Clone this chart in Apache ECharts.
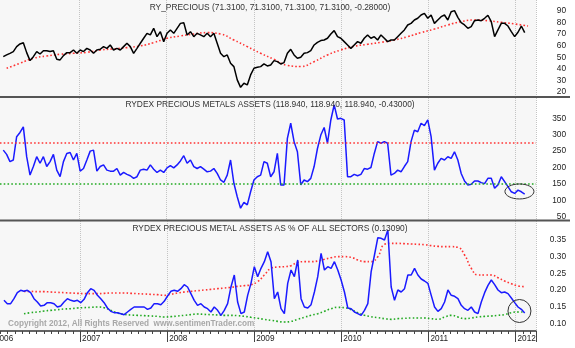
<!DOCTYPE html>
<html><head><meta charset="utf-8">
<script src="https://cdn.jsdelivr.net/npm/echarts@6/dist/echarts.min.js"></script>
<style>html,body{margin:0;padding:0;background:#fff;overflow:hidden}#c{position:absolute;left:-8px;top:0;width:583px;height:348px}</style>
</head><body><div id="c"></div>
<script>
// x values are days since 2006-01-01
const startDay = 46, stepDays = 14;          // first sample mid Feb 2006, every two weeks
const price = [50.5,52.0,53.4,54.9,59.2,61.5,62.6,54.0,47.1,50.5,54.9,52.8,55.7,55.7,54.9,55.7,48.2,47.7,51.4,54.0,
54.0,56.3,53.4,56.3,54.9,57.7,56.3,53.4,56.3,56.9,59.2,57.7,60.6,56.3,57.7,56.3,59.2,62.1,59.2,53.4,
57.7,62.1,66.4,70.7,69.3,75.0,67.8,72.1,63.5,70.7,73.6,70.7,75.0,79.3,79.9,69.3,72.1,67.8,70.7,69.3,
67.8,70.7,67.8,70.7,62.1,53.4,50.5,52.0,44.8,41.9,30.4,24.0,27.5,26.1,34.7,40.5,41.3,41.9,44.2,42.5,
43.3,47.1,46.2,44.2,45.4,53.4,56.9,52.0,49.1,50.0,53.4,54.0,55.7,60.6,62.9,64.4,64.9,66.4,70.1,73.0,
67.8,66.4,63.5,60.6,57.7,60.6,63.5,62.1,66.4,69.3,66.4,67.8,64.9,69.3,66.4,63.5,64.9,64.9,67.8,70.7,
73.6,77.9,79.3,82.2,83.7,86.5,88.0,83.7,86.5,79.3,82.2,85.1,86.5,82.2,89.4,90.3,84.5,79.9,77.9,75.0,
76.5,81.6,82.2,81.6,83.7,86.3,80.8,67.8,73.6,79.3,79.3,77.0,72.1,67.8,71.6,77.0,71.3];
const maStart = 60, maStep = 56;
const priceMA = [40.5,44.8,49.1,51.1,52.6,53.4,54.3,56.3,57.2,58.3,59.8,62.6,66.4,68.4,70.1,71.3,70.1,64.9,59.2,53.4,
48.2,43.0,42.0,46.2,52.0,56.3,59.5,61.2,62.9,64.9,67.8,71.3,74.4,77.9,80.8,82.2,81.6,80.2,78.8,77.0];
const assets = [253,240,218,223,294,307,324,233,177,203,233,213,233,203,218,240,192,172,218,243,
246,223,243,189,197,223,250,253,189,203,208,192,189,189,197,177,185,179,175,167,
172,192,195,192,208,195,185,192,185,199,206,199,208,220,236,213,223,203,197,203,
195,187,189,197,182,162,155,177,223,152,111,76,94,86,126,162,172,177,218,213,
172,187,243,147,147,289,335,279,248,147,162,157,167,203,258,299,322,274,345,391,
348,350,345,172,172,179,175,179,197,195,200,243,279,274,279,274,177,182,192,187,
203,218,279,314,309,335,328,345,294,192,213,228,223,233,228,248,223,182,159,147,
149,159,159,154,151,167,167,137,147,172,157,142,126,121,131,126,119];
const assetsHigh = 275, assetsLow = 151;
const pct = [.169,.159,.159,.174,.192,.199,.196,.199,.192,.174,.164,.152,.154,.162,.162,.159,.149,.152,.164,.174,
.169,.166,.169,.162,.172,.192,.204,.199,.184,.174,.162,.146,.136,.132,.132,.129,.126,.134,.142,.149,
.149,.149,.149,.142,.146,.159,.159,.156,.166,.182,.196,.199,.196,.204,.216,.209,.189,.169,.154,.159,
.149,.144,.134,.149,.139,.124,.139,.159,.209,.245,.164,.129,.134,.184,.220,.270,.240,.265,.285,.315,
.285,.174,.194,.144,.129,.220,.260,.240,.290,.174,.149,.146,.156,.194,.240,.310,.260,.270,.265,.285,
.260,.230,.194,.146,.144,.134,.129,.124,.139,.159,.255,.305,.357,.355,.350,.380,.209,.169,.200,.194,
.204,.245,.245,.265,.245,.233,.227,.220,.184,.149,.136,.144,.164,.200,.184,.181,.174,.154,.144,.139,
.149,.134,.129,.164,.192,.214,.230,.216,.200,.192,.194,.189,.176,.162,.149,.142,.131];
const bandStart = 130, bandStep = 28;
const pctHigh = [.196,.196,.195,.195,.194,.193,.192,.191,.190,.189,.189,.189,.190,.191,.191,.191,.190,.189,.188,.187,
.186,.184,.187,.191,.194,.196,.198,.200,.202,.204,.206,.208,.211,.213,.216,.225,.245,.265,.269,.270,
.273,.283,.285,.285,.287,.292,.297,.300,.300,.298,.290,.285,.285,.300,.337,.340,.340,.339,.338,.337,
.336,.333,.331,.330,.330,.328,.305,.265,.245,.245,.245,.237,.227,.219,.212,.210];
const pctLow = [.129,.132,.134,.137,.139,.141,.143,.144,.146,.147,.148,.149,.147,.139,.131,.127,.125,.124,.123,.122,
.121,.119,.120,.122,.124,.126,.128,.127,.126,.125,.124,.124,.123,.121,.118,.115,.112,.109,.106,.104,
.106,.112,.118,.124,.129,.136,.144,.148,.147,.141,.132,.124,.120,.117,.114,.112,.114,.115,.116,.116,
.116,.114,.112,.119,.124,.119,.114,.116,.119,.121,.122,.124,.126,.132,.134,.134];
const firstYear = 2006, yearDays = 365.25;
const priceTicks = [20,30,40,50,60,70,80,90];
const assetTicks = [50,100,150,200,250,300,350];
const pctTicks = [0.10,0.15,0.20,0.25,0.30,0.35];
const titles = ['RY_PRECIOUS (71.3100, 71.3100, 71.3100, 71.3100, -0.28000)',
  'RYDEX PRECIOUS METALS ASSETS (118.940, 118.940, 118.940, -0.43000)',
  'RYDEX PRECIOUS METAL ASSETS AS % OF ALL SECTORS (0.13090)'];
const copyright = 'Copyright 2012, All Rights Reserved  www.sentimenTrader.com';
const assetsMark = [2208, 127], pctMark = [2208, 0.137];

function pairs(start, step, vals){ return vals.map((v,i)=>[start+i*step, v]); }
function halfSteps(t){ const out=[]; const d=(t[1]-t[0])/2; for(let v=t[0]; v<=t[t.length-1]+d+1e-9; v+=d) out.push(+v.toFixed(4)); return out; }

// the chart container is shifted 8px left of the page, so the 2006 label is clipped to "06" as in the original
const SH = 8;
const FONT = 'Liberation Sans, Arial, sans-serif';
const XMAX = 2277.4;
const grids = [
  {left:0.3, right:39, top:0, height:96},
  {left:0.3, right:39, top:98, height:122},
  {left:0.3, right:39, top:221, height:110}
].map(g=>Object.assign(g,{show:true, backgroundColor:'#f7f7f7', borderWidth:0}));

function xAxis(i){
  const bottom = i===2;
  return {type:'value', gridIndex:i, min:0, max:XMAX, interval:yearDays,
    axisLine:{show:bottom, lineStyle:{color:'#333', width:1.5}},
    axisTick:{show:bottom, length:11, lineStyle:{color:'#444'}},
    minorTick:{show:bottom, splitNumber:12, length:3, lineStyle:{color:'#444'}},
    splitLine:{show:true, lineStyle:{color:'#c4c4c4', type:'dotted'}},
    axisLabel:{show:bottom, showMinLabel:true, align:'left', margin:4, padding:[0,0,0,2], fontSize:8.2, color:'#222', fontFamily:FONT,
      formatter:v=>{const k=v/yearDays; return Math.abs(k-Math.round(k))<1e-6 ? String(firstYear+Math.round(k)) : '';}}
  };
}
function yAxis(i, min, max, ticks, fmt){
  return {type:'value', gridIndex:i, position:'right', min, max, scale:true,
    axisLine:{show:true, lineStyle:{color:'#333'}},
    axisTick:{show:true, length:4, customValues:halfSteps(ticks).filter(v=>v<=max), lineStyle:{color:'#444'}},
    splitLine:{show:false},
    axisLabel:{show:true, customValues:ticks, align:'right', margin:30, fontSize:8.3, color:'#222', fontFamily:FONT, formatter:fmt}
  };
}
const dotted = (c)=>({color:c, width:1.6, type:[1.6,2.2]});
const tStyle = {fontSize:8.4, fontWeight:'normal', color:'#333', fontFamily:FONT};

const chart = echarts.init(document.getElementById('c'), null, {renderer:'canvas'});
chart.setOption({
  animation:false,
  backgroundColor:'#ffffff',
  grid:grids,
  xAxis:[xAxis(0),xAxis(1),xAxis(2)],
  yAxis:[yAxis(0,16.5,99.5,priceTicks,v=>String(v)),
         yAxis(1,40,412,assetTicks,v=>String(v)),
         yAxis(2,0.077,0.407,pctTicks,v=>v.toFixed(2))],
  title:[
    {text:titles[0], left:270+SH, top:4, padding:0, textAlign:'center', textStyle:tStyle},
    {text:titles[1], left:270+SH, top:100.5, padding:0, textAlign:'center', textStyle:tStyle},
    {text:titles[2], left:270+SH, top:224.5, padding:0, textAlign:'center', textStyle:tStyle},
    {text:copyright, left:8+SH, top:320, padding:0, textStyle:{fontSize:8.2, fontWeight:'bold', color:'#a8a8a8', fontFamily:FONT}}
  ],
  series:[
    {type:'line', xAxisIndex:0, yAxisIndex:0, data:pairs(maStart,maStep,priceMA), showSymbol:false, smooth:true, lineStyle:dotted('#ff3333'), z:2},
    {type:'line', xAxisIndex:0, yAxisIndex:0, data:pairs(startDay,stepDays,price), showSymbol:false, lineStyle:{color:'#000', width:1.5}, z:3},
    {type:'line', xAxisIndex:1, yAxisIndex:1, data:pairs(startDay,stepDays,assets), showSymbol:false, lineStyle:{color:'#1a1aff', width:1.5}, z:3,
      markLine:{silent:true, symbol:'none', label:{show:false},
        data:[{yAxis:assetsHigh, lineStyle:dotted('#ff3333')},{yAxis:assetsLow, lineStyle:dotted('#22aa22')}]}},
    {type:'line', xAxisIndex:2, yAxisIndex:2, data:pairs(bandStart,bandStep,pctHigh), showSymbol:false, smooth:true, lineStyle:dotted('#ff3333'), z:2},
    {type:'line', xAxisIndex:2, yAxisIndex:2, data:pairs(bandStart,bandStep,pctLow), showSymbol:false, smooth:true, lineStyle:dotted('#22aa22'), z:2},
    {type:'line', xAxisIndex:2, yAxisIndex:2, data:pairs(startDay,stepDays,pct), showSymbol:false, lineStyle:{color:'#1a1aff', width:1.5}, z:3}
  ]
});
const p1 = chart.convertToPixel({gridIndex:1}, assetsMark);
const p2 = chart.convertToPixel({gridIndex:2}, pctMark);
chart.setOption({graphic:[
  {type:'line', shape:{x1:SH, y1:97, x2:570+SH, y2:97}, style:{stroke:'#555', lineWidth:2}, z:100},
  {type:'line', shape:{x1:SH, y1:220.5, x2:570+SH, y2:220.5}, style:{stroke:'#555', lineWidth:2}, z:100},
  {type:'ellipse', shape:{cx:p1[0], cy:p1[1], rx:14.5, ry:7.5}, style:{fill:'none', stroke:'#333', lineWidth:1}, z:100},
  {type:'circle', shape:{cx:p2[0], cy:p2[1], r:11.5}, style:{fill:'none', stroke:'#333', lineWidth:1}, z:100}
]});
</script></body></html>
